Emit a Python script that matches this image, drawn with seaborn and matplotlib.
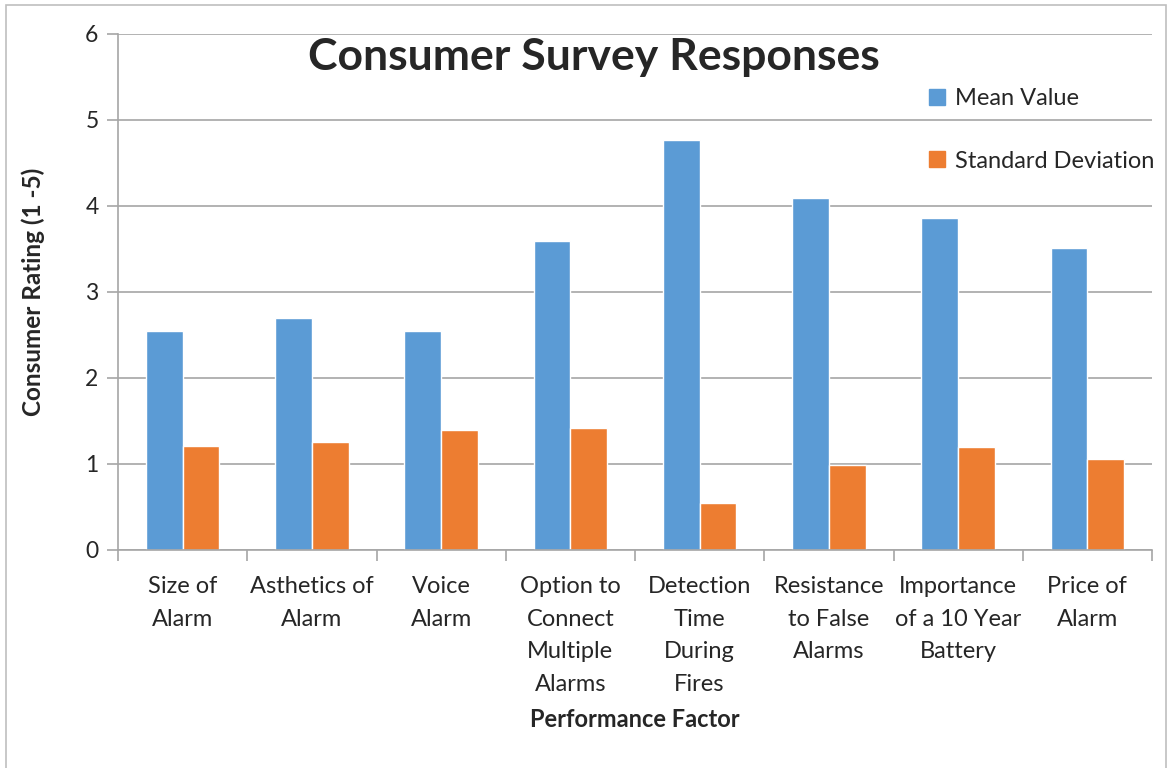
import numpy as np
import pandas as pd
import matplotlib
matplotlib.use("Agg")
import matplotlib.pyplot as plt
import seaborn as sns
from matplotlib.patches import Rectangle

categories = [
    "Size of\nAlarm",
    "Asthetics of\nAlarm",
    "Voice\nAlarm",
    "Option to\nConnect\nMultiple\nAlarms",
    "Detection\nTime\nDuring\nFires",
    "Resistance\nto False\nAlarms",
    "Importance\nof a 10 Year\nBattery",
    "Price of\nAlarm",
]
mean_values = [2.55, 2.70, 2.55, 3.59, 4.77, 4.09, 3.86, 3.51]
std_devs = [1.21, 1.26, 1.40, 1.42, 0.55, 0.99, 1.20, 1.06]
series_names = ["Mean Value", "Standard Deviation"]
y_ticks = [0, 1, 2, 3, 4, 5, 6]

df = pd.DataFrame({
    "Factor": categories * 2,
    "Series": [series_names[0]] * len(categories) + [series_names[1]] * len(categories),
    "Rating": mean_values + std_devs,
})

sns.set_theme(style="white")
plt.rcParams["font.family"] = ["Lato", "DejaVu Sans"]

fig = plt.figure(figsize=(11.72, 7.68), dpi=100)
ax = fig.add_axes([118 / 1172, 1 - 550 / 768, (1152 - 118) / 1172, (550 - 34) / 768])

palette = {"Mean Value": "#5B9BD5", "Standard Deviation": "#ED7D31"}
sns.barplot(data=df, x="Factor", y="Rating", hue="Series", palette=palette,
            width=0.57, saturation=1, ax=ax, legend=False)

ax.set_xlim(-0.5, len(categories) - 0.5)
ax.set_ylim(0, 6)
ax.set_yticks(y_ticks)
ax.set_yticklabels([str(t) for t in y_ticks], fontsize=16.5)
ax.yaxis.grid(True, color="#A6A6A6", linewidth=1.2)
ax.set_axisbelow(True)

ax.set_xticks(range(len(categories)))
ax.set_xticklabels(categories, fontsize=17, va="top")
for lbl in ax.get_xticklabels():
    lbl.set_linespacing(1.67)
ax.tick_params(axis="x", which="major", length=0, pad=19)
ax.set_xticks(np.arange(-0.5, len(categories), 1), minor=True)
ax.tick_params(axis="x", which="minor", length=8, color="#A6A6A6", width=1.2, bottom=True)
ax.tick_params(axis="y", length=8, color="#A6A6A6", width=1.2, left=True, pad=6)

for side in ["top", "right"]:
    ax.spines[side].set_visible(False)
for side in ["left", "bottom"]:
    ax.spines[side].set_color("#A6A6A6")
    ax.spines[side].set_linewidth(1.2)

ax.set_xlabel("Performance Factor", fontsize=17, fontweight="bold", labelpad=10)
ax.set_ylabel("Consumer Rating (1 -5)", fontsize=17.5, fontweight="bold", labelpad=29)

fig.text(594 / 1172, 1 - 57 / 768, "Consumer Survey Responses", fontsize=32,
         fontweight="bold", ha="center", va="center")

handles = [Rectangle((0, 0), 1, 1, color=palette[s]) for s in series_names]
fig.legend(handles, series_names, loc="upper left",
           bbox_to_anchor=(908 / 1172, 1 - 67 / 768), frameon=False,
           fontsize=17, handlelength=0.65, handleheight=0.65, handletextpad=0.45,
           labelspacing=1.75)

# light frame around the whole chart
fig.patches.append(Rectangle((6 / 1172, -0.05), (1166 - 6) / 1172, 1 - 5 / 768 + 0.05,
                             transform=fig.transFigure, fill=False,
                             edgecolor="#BFBFBF", linewidth=1.2))

fig.savefig("out.png", dpi=100)
